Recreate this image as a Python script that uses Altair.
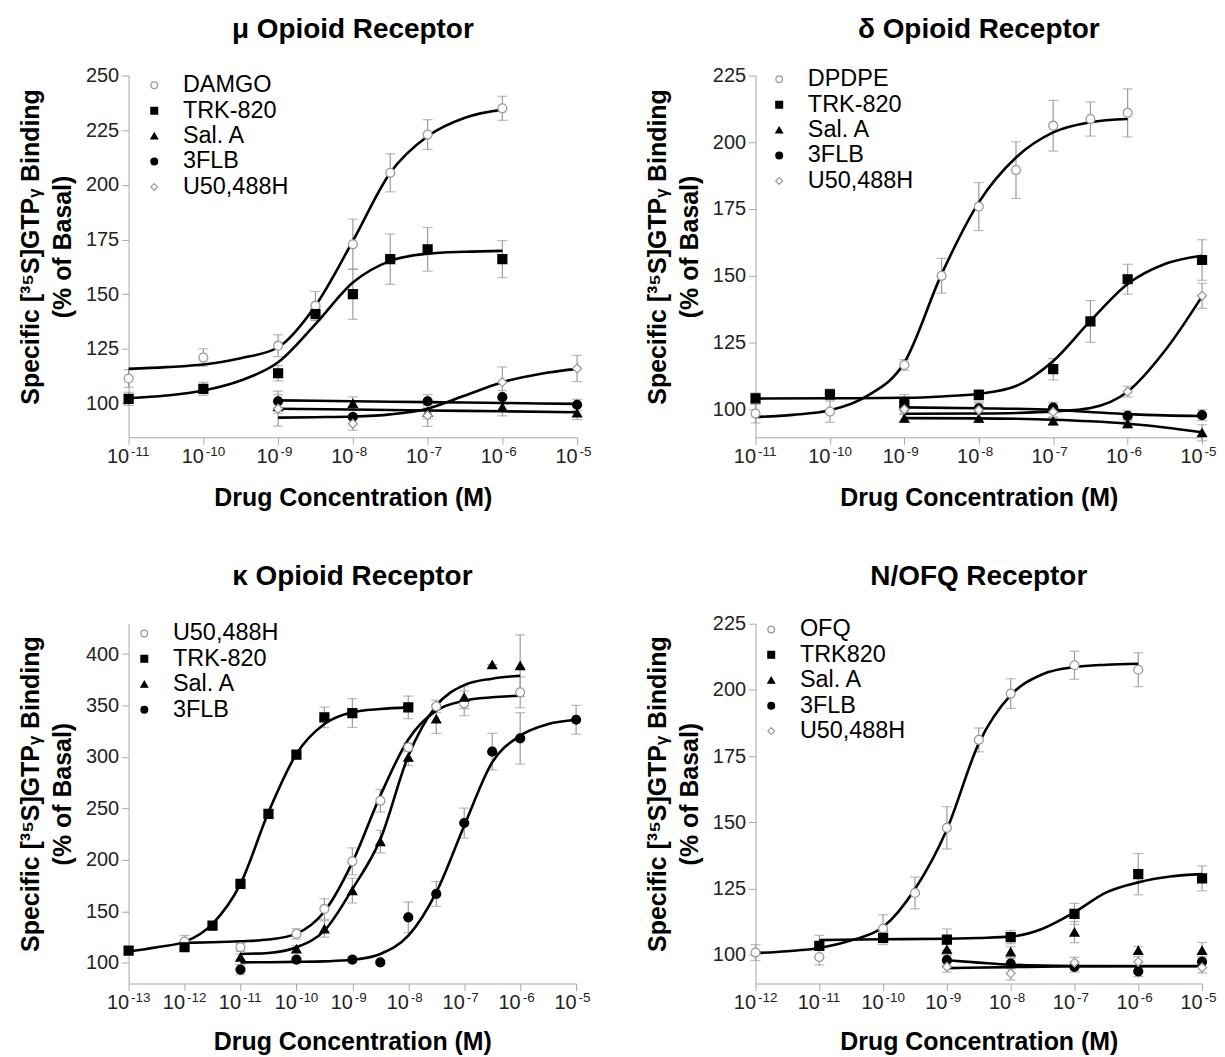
import altair as alt
import pandas as pd

FONT = "Liberation Sans"
GRAY = "#9c9c9c"
AXIS_GRAY = "#a8a8a8"

# x ticks: log10 exponents and their superscript texts
X_TICK_EXP = [-13, -12, -11, -10, -9, -8, -7, -6, -5]
X_TICK_SUP = ["-13", "-12", "-11", "-10", "-9", "-8", "-7", "-6", "-5"]
X_TITLE = "Drug Concentration (M)"
Y_TITLE = ["Specific [³⁵S]GTPᵧ Binding", "(% of Basal)"]

# ---------------- mu opioid receptor (x = log10 M) ----------------
MU_NAMES = ["DAMGO", "TRK-820", "Sal. A", "3FLB", "U50,488H"]
MU_DAMGO_X = [-11, -10, -9, -8.5, -8, -7.5, -7, -6]
MU_DAMGO_Y = [111.4, 121, 126.4, 144.7, 172.8, 205.5, 223, 235]
MU_DAMGO_E = [4, 4, 5, 6.5, 11.5, 8.7, 6.8, 5.5]
MU_DAMGO_FX = [-11, -10.5, -10, -9.5, -9, -8.5, -8, -7.5, -7, -6.5, -6]
MU_DAMGO_FY = [115.8, 116.6, 117.8, 120.7, 125.7, 144.7, 174.3, 205.5, 222.2, 230.7, 234.4]
MU_TRK_X = [-11, -10, -9, -8.5, -8, -7.5, -7, -6]
MU_TRK_Y = [102.1, 106.7, 113.8, 140.9, 150, 166, 170.5, 166]
MU_TRK_E = [3, 3, 3.5, 3, 11.5, 11.5, 10, 8.5]
MU_TRK_FX = [-11, -10.5, -10, -9.5, -9, -8.5, -8, -7.5, -7, -6.5, -6]
MU_TRK_FY = [102.4, 103.6, 105.9, 110.5, 118.8, 136.3, 155.3, 165.2, 168.5, 169.4, 169.8]
MU_SAL_X = [-9, -8, -7, -6, -5]
MU_SAL_Y = [98.5, 100, 96, 98.3, 95.6]
MU_SAL_E = [3, 3, 3, 4, 3]
MU_SAL_FX = [-9, -8, -7, -6, -5]
MU_SAL_FY = [97.6, 97.2, 96.8, 96.4, 96]
MU_FLB_X = [-9, -8, -7, -6, -5]
MU_FLB_Y = [101, 93.8, 101, 102.9, 99.4]
MU_FLB_E = [3, 3, 3, 3, 2.5]
MU_FLB_FX = [-9, -8, -7, -6, -5]
MU_FLB_FY = [101.4, 101, 100.6, 100.2, 99.8]
MU_U50_X = [-9, -8, -7, -6, -5]
MU_U50_Y = [97.6, 90.7, 94.5, 109.7, 116]
MU_U50_E = [8, 3, 5, 7, 6]
MU_U50_FX = [-9, -8.5, -8, -7.5, -7, -6.5, -6, -5.5, -5]
MU_U50_FY = [93.5, 93.7, 94, 95, 97.6, 103.6, 109.7, 113.5, 115.8]

# ---------------- delta opioid receptor ----------------
DE_NAMES = ["DPDPE", "TRK-820", "Sal. A", "3FLB", "U50,488H"]
DE_DPD_X = [-11, -10, -9, -8.5, -8, -7.5, -7, -6.5, -6]
DE_DPD_Y = [98.4, 99.1, 116.6, 150, 175.9, 189.6, 206.2, 208.7, 211]
DE_DPD_E = [3.5, 4, 2, 6.5, 9, 10.6, 9.5, 6.4, 9]
DE_DPD_FX = [-11, -10.5, -10, -9.5, -9, -8.5, -8, -7.5, -7, -6.5, -6]
DE_DPD_FY = [97.1, 97.9, 99.6, 105, 117.5, 150.6, 177.5, 194.3, 203.7, 207.5, 208.7]
DE_TRK_X = [-11, -10, -9, -8, -7, -6.5, -6, -5]
DE_TRK_Y = [104.1, 105.6, 102.5, 105.4, 115, 132.9, 148.7, 155.9]
DE_TRK_E = [2, 2, 3, 2, 4, 7.8, 5.6, 7.6]
DE_TRK_FX = [-11, -10, -9, -8.5, -8, -7.5, -7, -6.5, -6, -5.5, -5]
DE_TRK_FY = [104, 104.1, 104.3, 104.8, 105.8, 108.7, 118.1, 133.1, 146.9, 154.4, 157.5]
DE_SAL_X = [-9, -8, -7, -6, -5]
DE_SAL_Y = [96.6, 96.6, 95.6, 94.6, 91.2]
DE_SAL_E = [1.5, 1.5, 1.5, 1.5, 3]
DE_SAL_FX = [-9, -8, -7, -6.5, -6, -5.5, -5]
DE_SAL_FY = [96.7, 96.6, 96.1, 95.5, 94.6, 93.2, 91.4]
DE_FLB_X = [-9, -8, -7, -6, -5]
DE_FLB_Y = [100.6, 100.3, 100.6, 97.5, 97.8]
DE_FLB_E = [2, 2, 2, 2, 2]
DE_FLB_FX = [-9, -8, -7, -6.5, -6, -5.5, -5]
DE_FLB_FY = [100.7, 100.4, 99.8, 99, 98.2, 97.7, 97.5]
DE_U50_X = [-9, -8, -7, -6, -5]
DE_U50_Y = [100, 99.7, 99, 106.6, 142.5]
DE_U50_E = [2, 3, 2, 2, 4.7]
DE_U50_FX = [-9, -8, -7.5, -7, -6.5, -6, -5.5, -5]
DE_U50_FY = [98.3, 98.4, 98.6, 99.2, 100.5, 106.6, 121.9, 142.3]

# ---------------- kappa opioid receptor ----------------
KA_NAMES = ["U50,488H", "TRK-820", "Sal. A", "3FLB"]
KA_U50_X = [-12, -11, -10, -9.5, -9, -8.5, -8, -7.5, -7, -6]
KA_U50_Y = [120.7, 115.2, 128.2, 152.4, 198.7, 257.6, 309.4, 349.2, 352.1, 362.8]
KA_U50_E = [6, 4, 5, 10, 13, 11, 4, 6, 12, 15]
KA_U50_FX = [-12, -11.5, -11, -10.5, -10, -9.5, -9, -8.5, -8, -7.5, -7, -6.5, -6]
KA_U50_FY = [119.5, 120, 121, 122.7, 128.5, 150, 197.7, 262.5, 317, 345, 354.7, 358, 359.5]
KA_TRK_X = [-13, -12, -11.5, -11, -10.5, -10, -9.5, -9, -8]
KA_TRK_Y = [112, 115.2, 136.2, 176.7, 244.7, 302.3, 338.5, 342.7, 348.2]
KA_TRK_E = [3, 4, 3, 3, 3, 4, 10, 14, 11]
KA_TRK_FX = [-13, -12.5, -12, -11.5, -11, -10.5, -10, -9.5, -9, -8.5, -8]
KA_TRK_FY = [111, 115.2, 120.4, 137.9, 176.7, 246.3, 302.9, 332, 343.4, 346.6, 348.2]
KA_SAL_X = [-11, -10, -9.5, -9, -8.5, -8, -7.5, -7, -6.5, -6]
KA_SAL_Y = [105.5, 113.6, 133, 170.2, 217.8, 299.7, 336.9, 358, 389.6, 388.7]
KA_SAL_E = [3, 3, 8, 12, 11, 8, 14, 11, 0, 30]
KA_SAL_FX = [-11, -10.5, -10, -9.5, -9, -8.5, -8, -7.5, -7, -6.5, -6]
KA_SAL_FY = [108.7, 109.7, 115.2, 131.4, 171.8, 220, 301, 349.8, 369.9, 376.1, 379]
KA_FLB_X = [-11, -10, -9, -8.5, -8, -7.5, -7, -6.5, -6, -5]
KA_FLB_Y = [93.5, 103.2, 103.2, 100.6, 144.3, 167, 235.9, 305.2, 318.1, 336.2]
KA_FLB_E = [5, 2, 3, 2, 15, 12, 14.5, 17.8, 25, 14]
KA_FLB_FX = [-11, -10.5, -10, -9.5, -9, -8.5, -8, -7.5, -7, -6.5, -6, -5.5, -5]
KA_FLB_FY = [100.5, 100.7, 101, 101.5, 103, 108.7, 126.5, 168.6, 233.3, 294.8, 320.7, 332, 336.2]

# ---------------- N/OFQ receptor ----------------
NO_NAMES = ["OFQ", "TRK820", "Sal. A", "3FLB", "U50,488H"]
NO_OFQ_X = [-12, -11, -10, -9.5, -9, -8.5, -8, -7, -6]
NO_OFQ_Y = [100.8, 99.1, 109.8, 123.3, 147.9, 181.1, 198.6, 209.3, 207.6]
NO_OFQ_E = [3, 3, 5.3, 6, 8, 4.5, 5.6, 5.3, 6.4]
NO_OFQ_FX = [-12, -11.5, -11, -10.5, -10, -9.5, -9, -8.5, -8, -7.5, -7, -6.5, -6]
NO_OFQ_FY = [100.6, 101.3, 102.5, 105.4, 110.4, 124.8, 147.3, 179.8, 198, 205.9, 208.6, 209.5, 209.9]
NO_TRK_X = [-11, -10, -9, -8, -7, -6, -5]
NO_TRK_Y = [103.3, 106.3, 105.7, 106.6, 115.4, 130.4, 128.8]
NO_TRK_E = [4, 2.5, 4, 2.5, 4, 7.8, 4.7]
NO_TRK_FX = [-11, -10, -9, -8.5, -8, -7.5, -7, -6.5, -6, -5.5, -5]
NO_TRK_FY = [105.5, 105.8, 106, 106.3, 106.8, 109.8, 116, 123.5, 127.3, 129.5, 130.4]
NO_SAL_X = [-9, -8, -7, -6, -5]
NO_SAL_Y = [102, 101, 108.5, 101.6, 101.6]
NO_SAL_E = [2, 2, 4, 1.5, 3]
NO_FLB_X = [-9, -8, -7, -6, -5]
NO_FLB_Y = [97.9, 96.6, 95.4, 93.7, 97.3]
NO_FLB_E = [2, 2, 2, 2, 2]
NO_FLB_FX = [-9, -8.5, -8, -7, -6, -5]
NO_FLB_FY = [97.9, 97, 96.2, 95.7, 95.6, 95.6]
NO_U50_X = [-9, -8, -7, -6, -5]
NO_U50_Y = [95.4, 92.9, 97, 97.3, 95.1]
NO_U50_E = [2, 2.5, 2, 2, 2]
NO_U50_FX = [-9, -8, -7, -6, -5]
NO_U50_FY = [94.9, 95.3, 95.6, 95.7, 95.7]

SHAPES = ["circle", "square", "triangle-up", "circle", "diamond"]
FILLS = ["white", "black", "black", "black", "white"]
STROKES = [GRAY, "black", "black", "black", GRAY]


def pts(*series):
    rows = []
    for name, xs, ys, es in series:
        for x, y, e in zip(xs, ys, es):
            rows.append({"series": name, "x": x, "y": y, "lo": y - e, "hi": y + e})
    return pd.DataFrame(rows)


def fits(*series):
    rows = []
    for name, xs, ys in series:
        for x, y in zip(xs, ys):
            rows.append({"series": name, "x": x, "y": y})
    return pd.DataFrame(rows)


def panel(title, names, pdf, fdf, xdom, ydom, yvals, w, h, leg_x, leg_y, xtitle_pad, title_off):
    n = len(names)
    xvals = [e for e in X_TICK_EXP if xdom[0] <= e <= xdom[1]]
    xscale = alt.Scale(domain=xdom, nice=False, zero=False)
    yscale = alt.Scale(domain=ydom, nice=False, zero=False)
    xaxis = alt.Axis(values=xvals, labelExpr="'10'", labelAlign="right", title=X_TITLE,
                     titleFontSize=25, titleFontWeight="bold", titlePadding=xtitle_pad,
                     labelFontSize=20, labelPadding=2, tickSize=7, labelOverlap=False,
                     labelFlush=False, grid=False, domainColor=AXIS_GRAY, tickColor=AXIS_GRAY,
                     labelColor="#222222", titleColor="black")
    yaxis = alt.Axis(values=yvals, title=Y_TITLE, titleFontSize=25, titleFontWeight="bold",
                     titlePadding=10, titleLineHeight=32, titleY=h / 2 - 10,
                     labelFontSize=20, labelPadding=3,
                     tickSize=7, grid=False, domainColor=AXIS_GRAY, tickColor=AXIS_GRAY,
                     labelColor="#222222", titleColor="black", labelOverlap=False)

    def X():
        return alt.X("x:Q", scale=xscale, axis=xaxis)

    def Y(field):
        return alt.Y(field, scale=yscale, axis=yaxis)

    leg = alt.Legend(orient="none", legendX=leg_x, legendY=leg_y, title=None,
                     labelFontSize=23.5, labelFont=FONT, labelColor="black",
                     symbolSize=45, symbolStrokeWidth=1.3, rowPadding=0.5,
                     padding=0, labelOffset=17)
    sel = dict(domain=names)
    base = alt.Chart(pdf)
    rules = base.mark_rule(color=GRAY, strokeWidth=1.2).encode(x=X(), y=Y("lo:Q"), y2="hi:Q")
    cap_lo = base.mark_tick(color=GRAY, orient="horizontal", size=10, thickness=1.2).encode(
        x=X(), y=Y("lo:Q"))
    cap_hi = base.mark_tick(color=GRAY, orient="horizontal", size=10, thickness=1.2).encode(
        x=X(), y=Y("hi:Q"))
    lines = alt.Chart(fdf).mark_line(color="black", strokeWidth=2.6, interpolate="monotone").encode(
        x=X(), y=Y("y:Q"), detail="series:N")
    points = base.mark_point(filled=True, size=80, strokeWidth=1.3, opacity=1).encode(
        x=X(), y=Y("y:Q"),
        shape=alt.Shape("series:N", scale=alt.Scale(range=SHAPES[:n], **sel), legend=leg),
        fill=alt.Fill("series:N", scale=alt.Scale(range=FILLS[:n], **sel), legend=leg),
        stroke=alt.Stroke("series:N", scale=alt.Scale(range=STROKES[:n], **sel), legend=leg),
    )
    sup_df = pd.DataFrame({
        "x": xvals,
        "y": [ydom[0]] * len(xvals),
        "t": [s for e, s in zip(X_TICK_EXP, X_TICK_SUP) if xdom[0] <= e <= xdom[1]],
    })
    sups = alt.Chart(sup_df).mark_text(align="left", baseline="top", dx=2.5, dy=8, fontSize=13.5,
                                       color="#222222", font=FONT).encode(
        x=X(), y=Y("y:Q"), text="t:N")
    return alt.layer(rules, cap_lo, cap_hi, lines, points, sups).properties(
        width=w, height=h,
        title=alt.TitleParams(title, fontSize=28, fontWeight="bold", font=FONT, anchor="middle",
                              frame="group", offset=title_off, color="black"),
    )


p_mu = panel(
    "μ Opioid Receptor", MU_NAMES,
    pts(("DAMGO", MU_DAMGO_X, MU_DAMGO_Y, MU_DAMGO_E), ("TRK-820", MU_TRK_X, MU_TRK_Y, MU_TRK_E),
        ("Sal. A", MU_SAL_X, MU_SAL_Y, MU_SAL_E), ("3FLB", MU_FLB_X, MU_FLB_Y, MU_FLB_E),
        ("U50,488H", MU_U50_X, MU_U50_Y, MU_U50_E)),
    fits(("DAMGO", MU_DAMGO_FX, MU_DAMGO_FY), ("TRK-820", MU_TRK_FX, MU_TRK_FY),
         ("Sal. A", MU_SAL_FX, MU_SAL_FY), ("3FLB", MU_FLB_FX, MU_FLB_FY),
         ("U50,488H", MU_U50_FX, MU_U50_FY)),
    [-11, -5], [84.5, 250], [100, 125, 150, 175, 200, 225, 250], 450, 363, 14, -2, 19, 22)

p_de = panel(
    "δ Opioid Receptor", DE_NAMES,
    pts(("DPDPE", DE_DPD_X, DE_DPD_Y, DE_DPD_E), ("TRK-820", DE_TRK_X, DE_TRK_Y, DE_TRK_E),
        ("Sal. A", DE_SAL_X, DE_SAL_Y, DE_SAL_E), ("3FLB", DE_FLB_X, DE_FLB_Y, DE_FLB_E),
        ("U50,488H", DE_U50_X, DE_U50_Y, DE_U50_E)),
    fits(("DPDPE", DE_DPD_FX, DE_DPD_FY), ("TRK-820", DE_TRK_FX, DE_TRK_FY),
         ("Sal. A", DE_SAL_FX, DE_SAL_FY), ("3FLB", DE_FLB_FX, DE_FLB_FY),
         ("U50,488H", DE_U50_FX, DE_U50_FY)),
    [-11, -5], [89.5, 225], [100, 125, 150, 175, 200, 225], 448, 363, 12, -8, 19, 22)

p_ka = panel(
    "κ Opioid Receptor", KA_NAMES,
    pts(("U50,488H", KA_U50_X, KA_U50_Y, KA_U50_E), ("TRK-820", KA_TRK_X, KA_TRK_Y, KA_TRK_E),
        ("Sal. A", KA_SAL_X, KA_SAL_Y, KA_SAL_E), ("3FLB", KA_FLB_X, KA_FLB_Y, KA_FLB_E)),
    fits(("U50,488H", KA_U50_FX, KA_U50_FY), ("TRK-820", KA_TRK_FX, KA_TRK_FY),
         ("Sal. A", KA_SAL_FX, KA_SAL_FY), ("3FLB", KA_FLB_FX, KA_FLB_FY)),
    [-13, -5], [80, 429.5], [100, 150, 200, 250, 300, 350, 400], 449, 361, 4, -2, 17, 31)

p_no = panel(
    "N/OFQ Receptor", NO_NAMES,
    pts(("OFQ", NO_OFQ_X, NO_OFQ_Y, NO_OFQ_E), ("TRK820", NO_TRK_X, NO_TRK_Y, NO_TRK_E),
        ("Sal. A", NO_SAL_X, NO_SAL_Y, NO_SAL_E), ("3FLB", NO_FLB_X, NO_FLB_Y, NO_FLB_E),
        ("U50,488H", NO_U50_X, NO_U50_Y, NO_U50_E)),
    fits(("OFQ", NO_OFQ_FX, NO_OFQ_FY), ("TRK820", NO_TRK_FX, NO_TRK_FY),
         ("3FLB", NO_FLB_FX, NO_FLB_FY), ("U50,488H", NO_U50_FX, NO_U50_FY)),
    [-12, -5], [89.1, 225], [100, 125, 150, 175, 200, 225], 448, 361, 4, -6, 17, 23)

IND = dict(x="independent", y="independent", shape="independent", fill="independent",
           stroke="independent")
LEG_IND = dict(shape="independent", fill="independent", stroke="independent")

chart = (
    alt.concat(p_mu, p_de, p_ka, p_no, columns=2,
               spacing={"row": 187, "column": 179}, bounds="flush")
    .resolve_scale(**IND)
    .resolve_legend(**LEG_IND)
    .properties(padding={"left": 10, "top": 6, "right": 0, "bottom": 0})
    .configure(font=FONT)
    .configure_view(stroke=None)
)

chart.save("out.html", embed_options={"renderer": "svg", "actions": False})
